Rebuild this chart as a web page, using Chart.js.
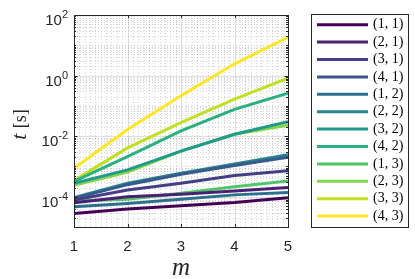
<!DOCTYPE html>
<html lang="en">
<head>
<meta charset="UTF-8">
<title>Run time vs m</title>
<script src="https://cdn.jsdelivr.net/npm/chart.js"></script>
<style>
    body { margin: 0; background: #fff; }
    #box { width: 415px; height: 279px; position: relative; }
</style>
</head>
<body>
<div id="box">
    <canvas id="myChart" width="415" height="279"></canvas>
</div>
<script>
    // data
    const mValues = [1, 2, 3, 4, 5];
    const seriesLabels = ['(1, 1)', '(2, 1)', '(3, 1)', '(4, 1)', '(1, 2)', '(2, 2)',
                          '(3, 2)', '(4, 2)', '(1, 3)', '(2, 3)', '(3, 3)', '(4, 3)'];
    const seriesColors = ['#440154', '#482173', '#433e85', '#38598c', '#2d708e', '#25858e',
                          '#1e9b8a', '#2bb07f', '#51c56a', '#85d54a', '#c2df23', '#fde725'];
    const t11 = [2.8e-5, 3.9e-5, 5.0e-5, 6.5e-5, 9.3e-5];
    const t21 = [6.3e-5, 1.0e-4, 1.2e-4, 1.55e-4, 2.0e-4];
    const t31 = [7.8e-5, 1.66e-4, 2.8e-4, 5.0e-4, 7.2e-4];
    const t41 = [8.8e-5, 2.5e-4, 5.5e-4, 1.07e-3, 2.0e-3];
    const t12 = [4.7e-5, 6.0e-5, 8.3e-5, 1.15e-4, 1.38e-4];
    const t22 = [9.3e-5, 2.8e-4, 6.0e-4, 1.2e-3, 2.45e-3];
    const t32 = [2.8e-4, 7.7e-4, 3.2e-3, 1.15e-2, 3.0e-2];
    const t42 = [3.2e-4, 2.1e-3, 1.5e-2, 7.7e-2, 0.26];
    const t13 = [7.2e-5, 8.3e-5, 1.29e-4, 2.15e-4, 3.3e-4];
    const t23 = [2.4e-4, 6.5e-4, 3.2e-3, 1.15e-2, 2.3e-2];
    const t33 = [3.4e-4, 4.1e-3, 2.8e-2, 0.166, 0.83];
    const t43 = [8.7e-4, 1.66e-2, 0.214, 2.45, 18.2];
    const allSeries = [t11, t21, t31, t41, t12, t22, t32, t42, t13, t23, t33, t43];

    const xTicks = [1, 2, 3, 4, 5];
    const yTickExponents = [2, 0, -2, -4];
    const yMin = 1e-5, yMax = 1e2;

    const axisColor = '#262626';

    // MATLAB-like axes: grid, box, ticks, labels and legend
    const matlabAxes = {
        id: 'matlabAxes',
        beforeDatasetsDraw(chart) {
            const {ctx, chartArea: a, scales: {x, y}} = chart;
            ctx.save();
            ctx.lineWidth = 1;

            // minor grid, dotted
            ctx.strokeStyle = 'rgba(38,38,38,0.2)';
            ctx.setLineDash([1, 2]);
            for (let v = 1.1; v < 5; v += 0.1) {
                if (Math.abs(v - Math.round(v)) < 0.01) continue;
                const px = Math.round(x.getPixelForValue(v)) + 0.5;
                ctx.beginPath(); ctx.moveTo(px, a.top); ctx.lineTo(px, a.bottom); ctx.stroke();
            }
            for (let e = -5; e < 2; e++) {
                for (let k = 1; k <= 9; k++) {
                    if (k === 1 && yTickExponents.includes(e)) continue;
                    if (k === 1 && e === -5) continue;
                    const py = Math.round(y.getPixelForValue(k * Math.pow(10, e))) + 0.5;
                    ctx.beginPath(); ctx.moveTo(a.left, py); ctx.lineTo(a.right, py); ctx.stroke();
                }
            }

            // major grid
            ctx.setLineDash([]);
            ctx.strokeStyle = 'rgba(38,38,38,0.15)';
            xTicks.forEach(v => {
                const px = Math.round(x.getPixelForValue(v)) + 0.5;
                ctx.beginPath(); ctx.moveTo(px, a.top); ctx.lineTo(px, a.bottom); ctx.stroke();
            });
            yTickExponents.forEach(e => {
                const py = Math.round(y.getPixelForValue(Math.pow(10, e))) + 0.5;
                ctx.beginPath(); ctx.moveTo(a.left, py); ctx.lineTo(a.right, py); ctx.stroke();
            });
            ctx.restore();
        },
        afterDatasetsDraw(chart) {
            const {ctx, chartArea: a, scales: {x, y}} = chart;
            ctx.save();
            ctx.strokeStyle = axisColor;
            ctx.fillStyle = axisColor;
            ctx.lineWidth = 1;

            // box
            ctx.strokeRect(Math.round(a.left) + 0.5, Math.round(a.top) + 0.5,
                           Math.round(a.right - a.left), Math.round(a.bottom - a.top));

            // ticks pointing in
            ctx.beginPath();
            xTicks.forEach(v => {
                const px = Math.round(x.getPixelForValue(v)) + 0.5;
                ctx.moveTo(px, a.bottom); ctx.lineTo(px, a.bottom - 3);
                ctx.moveTo(px, a.top); ctx.lineTo(px, a.top + 3);
            });
            for (let e = -5; e < 2; e++) {
                for (let k = 1; k <= 9; k++) {
                    const major = k === 1 && yTickExponents.includes(e);
                    const len = major ? 3.5 : 2;
                    const py = Math.round(y.getPixelForValue(k * Math.pow(10, e))) + 0.5;
                    ctx.moveTo(a.left, py); ctx.lineTo(a.left + len, py);
                    ctx.moveTo(a.right, py); ctx.lineTo(a.right - len, py);
                }
            }
            ctx.stroke();

            // x tick labels
            ctx.font = '15px "Liberation Sans", Arial, sans-serif';
            ctx.textAlign = 'center';
            ctx.textBaseline = 'alphabetic';
            xTicks.forEach(v => {
                ctx.fillText(String(v), x.getPixelForValue(v), a.bottom + 24);
            });

            // y tick labels 10^e
            yTickExponents.forEach(e => {
                const py = y.getPixelForValue(Math.pow(10, e));
                const expText = e < 0 ? '-' + Math.abs(e) : String(e);
                ctx.font = '11px "Liberation Sans", Arial, sans-serif';
                const ew = ctx.measureText(expText).width;
                ctx.textAlign = 'left';
                const right = a.left - 6;
                ctx.fillText(expText, right - ew, py + 3);
                ctx.font = '15px "Liberation Sans", Arial, sans-serif';
                ctx.textAlign = 'right';
                ctx.fillText('10', right - ew, py + 10);
            });

            // axis titles
            ctx.textAlign = 'center';
            ctx.font = 'italic 25px "Liberation Serif", "DejaVu Serif", serif';
            ctx.fillText('m', (a.left + a.right) / 2, a.bottom + 48);

            ctx.save();
            ctx.translate(26, 125);
            ctx.rotate(-Math.PI / 2);
            ctx.textAlign = 'left';
            ctx.font = 'italic 22px "Liberation Serif", "DejaVu Serif", serif';
            const tW = ctx.measureText('t').width;
            ctx.font = '18px "Liberation Serif", "DejaVu Serif", serif';
            const sW = ctx.measureText(' [s]').width;
            const start = -(tW + sW) / 2;
            ctx.font = 'italic 22px "Liberation Serif", "DejaVu Serif", serif';
            ctx.fillText('t', start, 0);
            ctx.font = '18px "Liberation Serif", "DejaVu Serif", serif';
            ctx.fillText(' [s]', start + tW + 1, 0);
            ctx.restore();

            // legend
            const lx = 311.5, ly = 14.5, lw = 97, lh = 213;
            ctx.fillStyle = '#fff';
            ctx.fillRect(lx, ly, lw, lh);
            ctx.strokeStyle = axisColor;
            ctx.strokeRect(lx, ly, lw, lh);
            ctx.font = '14px "Liberation Serif", "DejaVu Serif", serif';
            ctx.textAlign = 'left';
            ctx.textBaseline = 'middle';
            chart.data.datasets.forEach((ds, i) => {
                const iy = 24.7 + i * 17.4;
                ctx.strokeStyle = ds.borderColor;
                ctx.lineWidth = 3;
                ctx.beginPath(); ctx.moveTo(317, iy); ctx.lineTo(368, iy); ctx.stroke();
                ctx.fillStyle = '#000';
                ctx.fillText(ds.label, 373, iy);
            });
            ctx.restore();
        }
    };

    const datasets = allSeries.map((vals, i) => ({
        label: seriesLabels[i],
        data: vals.map((v, j) => ({x: mValues[j], y: v})),
        borderColor: seriesColors[i],
        backgroundColor: seriesColors[i],
        borderWidth: 3,
        pointRadius: 0,
        fill: false,
        tension: 0
    }));

    const chart = new Chart(document.getElementById('myChart'), {
        type: 'line',
        data: {datasets: datasets},
        options: {
            responsive: false,
            animation: false,
            devicePixelRatio: 1,
            layout: {padding: {left: 74, right: 127, top: 15, bottom: 52}},
            scales: {
                x: {type: 'linear', min: 1, max: 5, display: false},
                y: {type: 'logarithmic', min: yMin, max: yMax, display: false}
            },
            plugins: {
                legend: {display: false},
                tooltip: {enabled: false}
            }
        },
        plugins: [matlabAxes]
    });
</script>
</body>
</html>
